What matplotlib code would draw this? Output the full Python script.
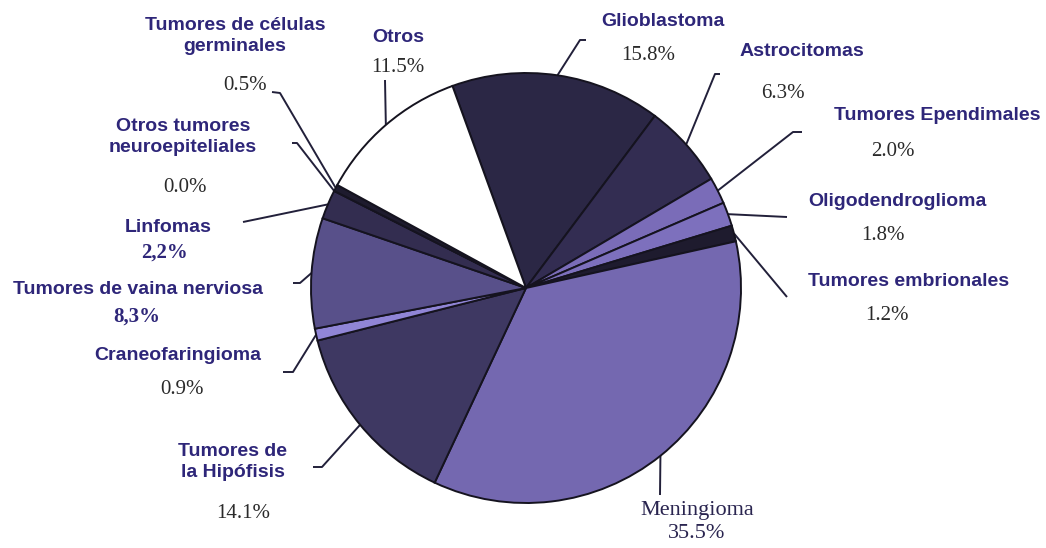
import numpy as np
import matplotlib.pyplot as plt

# --- datos (en sentido horario desde Glioblastoma) ---
nombres = ['Glioblastoma', 'Astrocitomas', 'Tumores Ependimales',
           'Oligodendroglioma', 'Tumores embrionales', 'Meningioma',
           'Tumores de\nla Hipófisis', 'Craneofaringioma',
           'Tumores de vaina nerviosa', 'Linfomas',
           'Otros tumores\nneuroepiteliales', 'Tumores de células\ngerminales',
           'Otros']
porcentajes = [15.8, 6.3, 2.0, 1.8, 1.2, 35.5, 14.1, 0.9, 8.3, 2.2, 0.0, 0.5, 11.5]
etiquetas_pct = ['15.8%', '6.3%', '2.0%', '1.8%', '1.2%', '35.5%',
                 '14.1%', '0.9%', '8,3%', '2,2%', '0.0%', '0.5%', '11.5%']
colores = ['#2b2745', '#332d52', '#7a6cb8', '#7d70bd', '#1e1b2e',
           '#7468b0', '#3e3862', '#9085d6', '#58508a', '#332d50', '#1e1b2e',
           '#1e1b2e', '#ffffff']

H = 548
AZUL = '#2e2679'
GRIS = '#2a2a2a'
LINEA = '#22203a'

# posiciones de las etiquetas (pixeles): nombre, porcentaje, codo y fin de la guia
layout = [
    ((663, 22), (648, 55), (580, 40), (586, 40)),
    ((802, 52), (783, 93), (715, 74), (720, 74)),
    ((937, 115), (893, 151), (793, 132), (802, 132)),
    ((897, 201), (883, 236), (787, 217), None),
    ((909, 282), (887, 316), (787, 297), None),
    ((697, 510), (697, 533), (660, 495), None),
    ((233, 462), (243, 513), (322, 467), (313, 467)),
    ((178, 356), (182, 390), (293, 372), (283, 372)),
    ((138, 290), (137, 317), (300, 283), (293, 283)),
    ((168, 228), (165, 253), (243, 222), None),
    ((183, 137), (185, 188), (297, 143), (292, 143)),
    ((235, 36), (245, 85), (280, 93), (272, 92)),
    ((398, 38), (398, 68), (385, 80), None),
]

fig = plt.figure(figsize=(10.46, 5.48), dpi=100)
ax = fig.add_axes([0, 0, 1, 1])

centro = (526, H - 288)
radio = 215
wedges, _ = ax.pie(porcentajes, colors=colores, startangle=110, counterclock=False,
                   center=centro, radius=radio,
                   wedgeprops=dict(edgecolor='#15131f', linewidth=1.4))

for i, w in enumerate(wedges):
    (nx, ny), (px, py), codo, fin = layout[i]
    ang = np.deg2rad((w.theta1 + w.theta2) / 2)
    x0 = centro[0] + radio * np.cos(ang)
    y0 = centro[1] + radio * np.sin(ang)
    xs = [x0, codo[0]]
    ys = [y0, H - codo[1]]
    if fin is not None:
        xs.append(fin[0])
        ys.append(H - fin[1])
    ax.plot(xs, ys, color=LINEA, lw=1.4, solid_capstyle='butt', zorder=0)

    if nombres[i] == 'Meningioma':
        ax.text(nx, H - ny, nombres[i], ha='center', va='center', fontsize=16,
                family='Liberation Serif', color='#2a2550')
        ax.text(px, H - py, etiquetas_pct[i], ha='center', va='center', fontsize=16,
                family='Liberation Serif', color='#2a2550')
        continue
    ax.text(nx, H - ny, nombres[i], ha='center', va='center', fontsize=14,
            family='Liberation Sans', fontweight='bold', color=AZUL,
            linespacing=1.35)
    if ',' in etiquetas_pct[i]:
        ax.text(px, H - py, etiquetas_pct[i], ha='center', va='center', fontsize=15,
                family='Liberation Serif', fontweight='bold', color=AZUL)
    else:
        ax.text(px, H - py, etiquetas_pct[i], ha='center', va='center', fontsize=15,
                family='Liberation Serif', color=GRIS)

ax.set_xlim(0, 1046)
ax.set_ylim(0, H)
ax.set_aspect('equal')
ax.axis('off')

fig.savefig('out.png', dpi=100, facecolor='white')
